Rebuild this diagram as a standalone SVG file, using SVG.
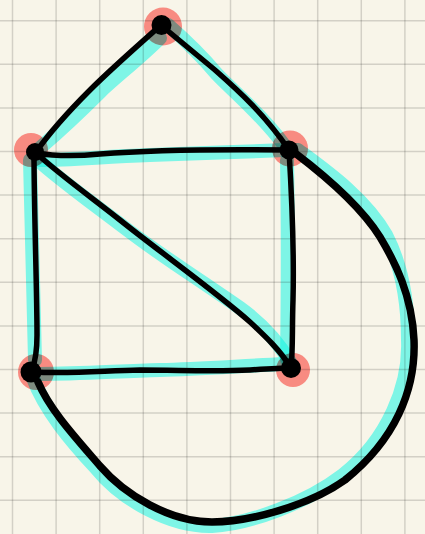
<svg xmlns="http://www.w3.org/2000/svg" width="425" height="534" viewBox="0 0 425 534">
<style>
.grid{stroke:#000;stroke-opacity:0.15;stroke-width:1.5;fill:none}
.halo{fill:#ff918d;mix-blend-mode:multiply}
.hl{fill:none;stroke:#82fffc;stroke-width:14;stroke-linecap:round;stroke-linejoin:round;mix-blend-mode:multiply}
.ink{fill:none;stroke:#000;stroke-width:5.5;stroke-linecap:round;stroke-linejoin:round}
.thick{stroke-width:7.5}
.dot{fill:#000}
</style>
<rect width="425" height="534" fill="#f8f5e9"/>
<g id="grid" class="grid">
<path d="M12.5,0V534M56.1,0V534M99.7,0V534M143.3,0V534M186.9,0V534M230.5,0V534M274.1,0V534M317.7,0V534M361.3,0V534M404.9,0V534"/>
<path d="M0,20.7H425M0,64.3H425M0,107.9H425M0,151.5H425M0,195.1H425M0,238.7H425M0,282.3H425M0,325.9H425M0,369.5H425M0,413.1H425M0,456.7H425M0,500.3H425"/>
</g>
<g id="halos">
<circle class="halo" cx="163" cy="26.5" r="19"/>
<circle class="halo" cx="31" cy="150" r="17"/>
<circle class="halo" cx="290" cy="148.5" r="18"/>
<circle class="halo" cx="36" cy="372" r="18"/>
<circle class="halo" cx="293" cy="370" r="17"/>
</g>
<g id="connectors">
<g id="highlights">
<path class="hl" d="M160,38 C140,58 112,80 100,92 S55,135 40,148"/>
<path class="hl" d="M168,25 C185,40 205,60 215,72 S260,112 284,145"/>
<path class="hl" d="M40,160 C70,160 100,157 150,155 C200,153 240,152 285,150"/>
<path class="hl" d="M30,160 C32,220 33,300 35,360"/>
<path class="hl" d="M38,160 C60,180 95,205 125,228 C160,255 200,280 240,308 C265,326 280,345 290,362"/>
<path class="hl" d="M287,160 C288,220 288,290 287,360"/>
<path class="hl" d="M40,374 C80,374 120,371 160,370 C200,369 240,366 285,364"/>
<path class="hl" d="M298,150 C325,170 365,198 386,235 C400,262 408,295 408,340 C410,385 388,440 343,475 C308,502 250,524 212,526 C170,527 122,500 96,468 C70,440 45,410 33,378"/>
</g>
<g id="edges">
<path class="ink" d="M161,25 C135,48 110,70 90,90 S50,132 36,152"/>
<path class="ink" d="M162,26 L215,70 C240,92 265,115 289,150"/>
<path class="ink" d="M36,153 C60,157 80,156 100,154 C150,150 200,149 289,150"/>
<path class="ink" d="M34,153 C34,210 37,290 37,335 C37,352 35,362 32,370"/>
<path class="ink" d="M36,153 C60,175 95,200 120,220 C160,252 220,295 250,322 C265,336 280,350 291,368"/>
<path class="ink" d="M289,150 C292,200 294,260 293,300 C292,330 293,350 291,368"/>
<path class="ink" d="M33,372 C70,374 100,371 140,370 C180,370 212,372 250,370 C265,369 280,368 291,368"/>
<path class="ink thick" d="M295,153 C320,172 360,205 380,237 C395,262 412,295 414,340 C416,390 395,440 345,480 C310,505 250,522 212,522 C170,522 125,495 100,466 C75,437 50,410 38,382"/>
</g>
</g>
<g id="node-top"><circle class="dot" cx="161.5" cy="25" r="10"/></g>
<g id="node-left-top"><circle class="dot" cx="35" cy="152" r="9"/></g>
<g id="node-right-top"><circle class="dot" cx="289" cy="150" r="9.5"/></g>
<g id="node-left-bottom"><circle class="dot" cx="31" cy="372" r="10.5"/></g>
<g id="node-right-bottom"><circle class="dot" cx="291" cy="368" r="10"/></g>
</svg>
